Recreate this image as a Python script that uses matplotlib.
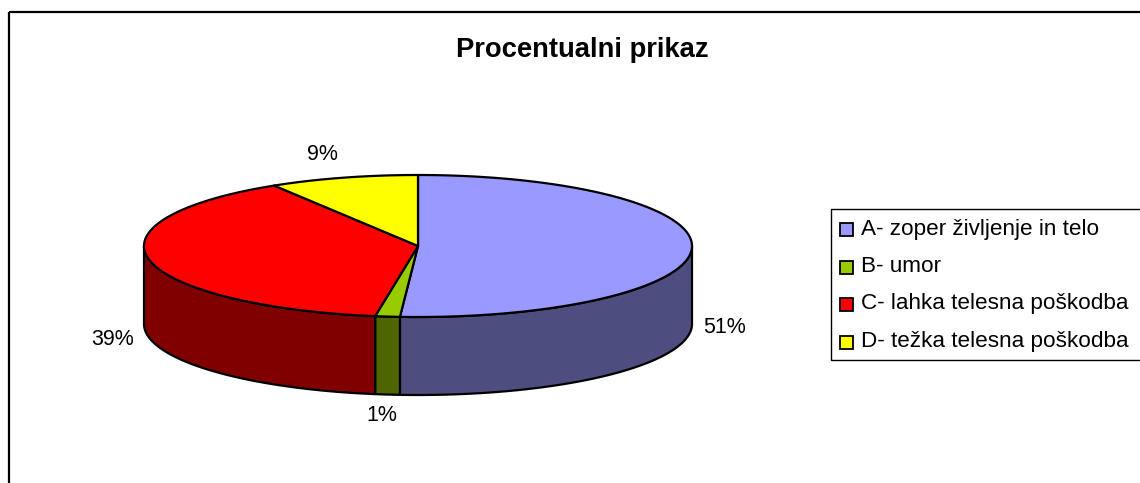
import numpy as np
import matplotlib
matplotlib.use("Agg")
import matplotlib.pyplot as plt
from matplotlib.patches import Polygon, Rectangle

# ---- data ----
categories = ["A- zoper življenje in telo", "B- umor",
              "C- lahka telesna poškodba", "D- težka telesna poškodba"]
shares = [51.05, 1.45, 38.7, 8.8]          # percent
title = "Procentualni prikaz"

# ---- style ----
top_colors = ["#9999FF", "#99CC00", "#FF0000", "#FFFF00"]
side_colors = ["#4D4D80", "#4D6600", "#800000", "#808000"]
# label offsets (px) relative to the rim point at each slice's mid angle
label_offsets = [(33, 79), (-6, 99), (-37, 80), (-21, -23)]

plt.rcParams["font.family"] = ["Liberation Sans", "DejaVu Sans"]

W, H = 1140, 483
fig = plt.figure(figsize=(W / 100, H / 100), dpi=100)
ax = fig.add_axes([0, 0, 1, 1])
ax.set_xlim(0, W)
ax.set_ylim(H, 0)
ax.axis("off")

# pie geometry (pixels)
cx, cy, rx, ry, depth = 418, 246, 274, 71, 78


def rim(theta_deg):
    t = np.radians(theta_deg)
    return cx + rx * np.sin(t), cy - ry * np.cos(t)


vals = np.array(shares, dtype=float)
fr = vals / vals.sum()
ends = np.cumsum(fr) * 360.0
starts = ends - fr * 360.0

# sides (front half only: 90..270 deg clockwise from top)
for s, e, col in zip(starts, ends, side_colors):
    a, b = max(s, 90.0), min(e, 270.0)
    if b <= a:
        continue
    th = np.linspace(a, b, 200)
    xs, ys = rim(th)
    pts = np.column_stack([np.concatenate([xs, xs[::-1]]),
                           np.concatenate([ys, ys[::-1] + depth])])
    ax.add_patch(Polygon(pts, closed=True, facecolor=col, edgecolor="black",
                         linewidth=1.6, joinstyle="round", zorder=2))

# tops
for s, e, col in zip(starts, ends, top_colors):
    th = np.linspace(s, e, max(int((e - s) * 2), 4))
    xs, ys = rim(th)
    pts = np.column_stack([np.concatenate([[cx], xs]),
                           np.concatenate([[cy], ys])])
    ax.add_patch(Polygon(pts, closed=True, facecolor=col, edgecolor="black",
                         linewidth=1.6, joinstyle="round", zorder=3))

# percentage labels
for s, e, v, (dx, dy) in zip(starts, ends, vals, label_offsets):
    mx, my = rim((s + e) / 2)
    ax.text(mx + dx, my + dy, f"{round(v)}%", fontsize=15.5, ha="center",
            va="center", zorder=5)

# title
ax.text(582, 50, title, fontsize=19.7, fontweight="bold", ha="center",
        va="center")

# outer frame
ax.add_patch(Rectangle((9, 12), 1200, 600, fill=False, edgecolor="black",
                       linewidth=1.6, zorder=1))

# legend
lx, ly, lw, lh = 831, 209, 400, 151
ax.add_patch(Rectangle((lx, ly), lw, lh, fill=False, edgecolor="black",
                       linewidth=1.0, zorder=4))
row_y = [229, 267, 304, 342]
for yy, name, col in zip(row_y, categories, top_colors):
    ax.add_patch(Rectangle((840, yy - 6.5), 13, 13, facecolor=col,
                           edgecolor="black", linewidth=1.3, zorder=5))
    ax.text(861, yy, name, fontsize=16.2, ha="left", va="center", zorder=5)

fig.savefig("out.png", dpi=100)
